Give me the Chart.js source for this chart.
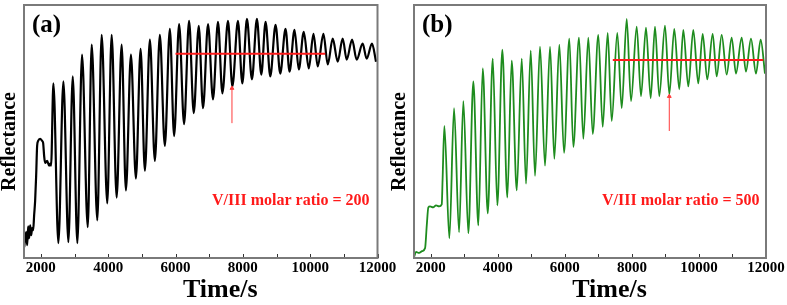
<!DOCTYPE html>
<html><head><meta charset="utf-8">
<script src="https://cdn.jsdelivr.net/npm/chart.js@4.4.1/dist/chart.umd.min.js"></script>
<style>
html,body{margin:0;padding:0;background:#fff;}
#wrap{position:relative;width:787px;height:305px;overflow:hidden;background:#fff;}
canvas{position:absolute;top:0;}
#ca{left:0;}
#cb{left:390px;}
</style></head><body>
<div id="wrap">
<canvas id="ca" width="400" height="305"></canvas>
<canvas id="cb" width="397" height="305"></canvas>
</div>
<script>
// ---- axis ticks ----
const xTicks = [2000, 4000, 6000, 8000, 10000, 12000];
const minorTicks = [3000, 5000, 7000, 9000, 11000];

// ---- panel (a): V/III = 200 ----
const timeA = [1505,1564,1594,1624,1653,1683,1713,1742,1772,1801,1831,1861,1890,1920,1979,2039,2068,2098,2127,2187,2246,2276,2305,
  2373,2521,2670,2818,2948,3084,3224,3393,3511,3677,3807,3973,4104,4252,4400,4527,4676,4824,4963,5091,5239,5387,5535,5683,
  5832,5959,6107,6255,6403,6542,6690,6818,6966,7114,7262,7393,7559,7689,7855,7985,8122,8270,8418,8548,8676,8815,8972,9111,
  9268,9387,9535,9662,9810,9959,10098,10225,10394,10522,10670,10818,10966,11085,11245,11381,11559,11677,11837,11956];
const reflA = [4.3,10.2,5.1,12.5,7.8,12.9,9.0,11.8,11.0,16.9,22.7,32.5,44.3,46.3,47.1,46.3,45.5,40.4,37.6,38.4,36.5,37.3,36.5,
  69.0,5.9,69.8,6.3,71.8,5.9,80.4,12.2,84.3,14.9,88.2,21.6,88.2,23.9,84.3,26.7,80.4,31.4,82.7,34.5,86.3,38.4,88.2,44.3,
  90.6,48.2,92.5,52.9,93.7,57.3,91.8,59.2,92.5,62.7,93.3,65.1,93.7,67.8,93.7,69.0,94.5,70.6,94.5,72.5,93.3,71.8,92.2,72.9,
  90.6,73.7,90.2,74.5,89.4,74.9,88.6,75.7,88.6,76.5,86.7,77.6,86.7,78.4,86.3,78.4,84.7,78.8,84.7,77.6];
const lineTimeA = [6000, 10450];
const lineReflA = [80.7, 80.7];
const arrowTimeA = [7677, 7677];
const arrowReflA = [53.3, 67.1];
const panelLabelA = '(a)';
const ratioLabelA = 'V/III molar ratio = 200';

// ---- panel (b): V/III = 500 ----
const timeB = [1502,1562,1651,1741,1830,1881,1928,1979,2069,2158,2248,2328,2352,
  2406,2555,2695,2844,2972,3121,3270,3419,3551,3700,3849,3986,4135,4284,4415,4565,4714,4842,4982,5110,5259,5408,5558,5686,
  5835,5975,6133,6252,6422,6551,6700,6831,6998,7129,7278,7397,7564,7696,7845,7973,8143,8271,8420,8560,8689,8817,8987,9116,
  9264,9413,9533,9682,9831,9980,10111,10248,10409,10529,10678,10827,10976,11104,11274,11402,11552,11701,11841,11969];
const reflB = [0.4,2.4,2.0,2.7,3.9,12.9,20.0,20.4,20.0,20.8,20.4,21.2,30.6,
  52.2,7.8,59.2,10.2,62.0,9.8,69.8,12.9,74.9,17.6,78.8,20.8,82.4,23.9,78.0,26.7,78.8,29.4,82.0,32.5,83.5,36.5,83.5,39.2,
  84.3,41.6,86.7,43.9,87.1,47.1,87.1,49.0,88.2,51.8,89.0,54.1,89.0,59.2,94.5,62.0,91.4,63.9,91.0,63.1,91.4,63.9,91.8,64.7,
  90.6,66.7,90.2,67.8,90.2,69.0,88.6,70.6,88.6,71.8,88.2,72.5,87.1,72.9,87.1,73.7,86.7,72.9,86.3,72.9];
const lineTimeB = [7430, 11920];
const lineReflB = [78.3, 78.3];
const arrowTimeB = [9115, 9115];
const arrowReflB = [50.2, 63.9];
const panelLabelB = '(b)';
const ratioLabelB = 'V/III molar ratio = 500';

const SERIF = '"Liberation Serif", "Times New Roman", serif';

function pts(t, r) { return t.map((x, i) => ({ x: x, y: r[i] })); }

function decor(label, ratio) {
  return {
    id: 'decor',
    afterDatasetsDraw(chart) {
      const { ctx, chartArea: a, scales: { x } } = chart;
      ctx.save();
      ctx.strokeStyle = '#333';
      ctx.lineWidth = 1;
      xTicks.concat(minorTicks).forEach(v => {
        const px = Math.round(x.getPixelForValue(v)) + 0.5;
        ctx.beginPath(); ctx.moveTo(px, a.bottom); ctx.lineTo(px, a.bottom - 4); ctx.stroke();
      });
      ctx.strokeStyle = '#7a7a7a';
      ctx.lineWidth = 2;
      ctx.strokeRect(a.left, a.top, a.right - a.left, a.bottom - a.top);
      ctx.fillStyle = '#000';
      ctx.font = 'bold 25px ' + SERIF;
      ctx.textBaseline = 'alphabetic';
      ctx.fillText(label, a.left + 8, 32);
      ctx.fillStyle = '#ff1a1a';
      ctx.font = 'bold 16px ' + SERIF;
      ctx.fillText(ratio, a.left + 188, 205);
      ctx.restore();
    }
  };
}

function makeChart(id, padRight, curve, color, width, lineT, lineR, arT, arR, label, ratio) {
  return new Chart(document.getElementById(id), {
    type: 'line',
    data: {
      datasets: [
        { data: pts(lineT, lineR), borderColor: '#ff1a1a', borderWidth: 2, pointRadius: 0, tension: 0, order: 0 },
        { data: pts(arT, arR), borderColor: '#ff3b3b', backgroundColor: '#ff3b3b', borderWidth: 1,
          pointRadius: [0, 2.2], pointStyle: 'triangle', tension: 0, order: 1 },
        { data: curve, borderColor: color, borderWidth: width, pointRadius: 0,
          cubicInterpolationMode: 'monotone', order: 2 }
      ]
    },
    options: {
      responsive: false, animation: false,
      layout: { padding: { left: 0, right: padRight, top: 3, bottom: 0 } },
      plugins: { legend: { display: false }, tooltip: { enabled: false } },
      scales: {
        x: {
          type: 'linear', min: 1500, max: 12000,
          afterBuildTicks: s => { s.ticks = xTicks.map(v => ({ value: v })); },
          afterFit: s => { s.height = 47; },
          grid: { display: false, drawTicks: false, tickLength: 0 }, border: { display: false },
          ticks: { autoSkip: false, maxRotation: 0, padding: 1, color: '#000',
                   font: { family: SERIF, weight: 'bold', size: 15 }, callback: v => String(v) },
          title: { display: true, text: '      Time/s', color: '#000',
                   font: { family: SERIF, weight: 'bold', size: 26, lineHeight: 1 }, padding: { top: 0, bottom: 2 } }
        },
        y: {
          min: 0, max: 100,
          afterFit: s => { s.width = 24; },
          grid: { display: false }, border: { display: false },
          ticks: { display: false },
          title: { display: true, text: 'Reflectance    ', color: '#000',
                   font: { family: SERIF, weight: 'bold', size: 20, lineHeight: 1 }, padding: { top: 0, bottom: 0 } }
        }
      }
    },
    plugins: [decor(label, ratio)]
  });
}

makeChart('ca', 22.5, pts(timeA, reflA), '#000000', 2.2, lineTimeA, lineReflA, arrowTimeA, arrowReflA, panelLabelA, ratioLabelA);
makeChart('cb', 21, pts(timeB, reflB), '#1e8c1e', 1.8, lineTimeB, lineReflB, arrowTimeB, arrowReflB, panelLabelB, ratioLabelB);
</script>
</body></html>
